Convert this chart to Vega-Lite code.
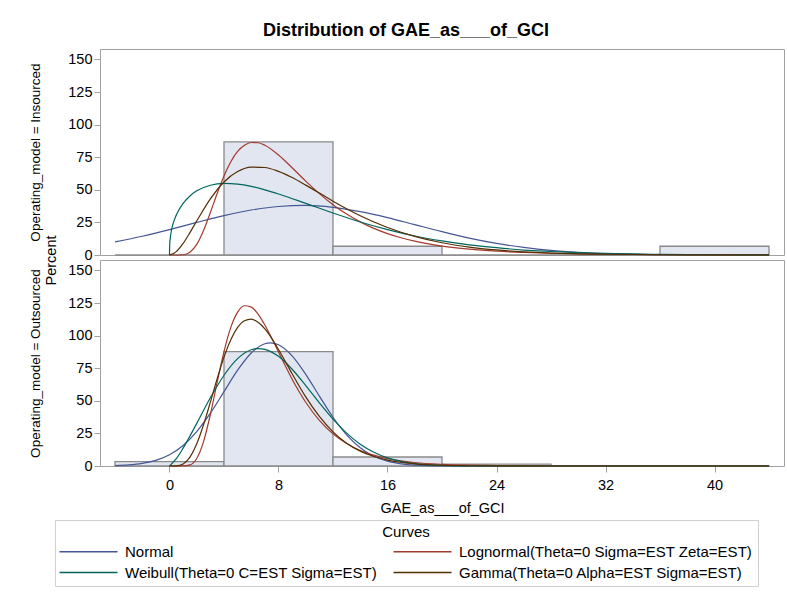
{
  "$schema": "https://vega.github.io/schema/vega-lite/v6.json",
  "padding": {"left": 27, "top": 21, "right": 3, "bottom": 6},
  "bounds": "flush",
  "spacing": 5,
  "title": {"text": "Distribution of GAE_as___of_GCI", "fontSize": 18, "fontWeight": "bold", "color": "#000000", "anchor": "middle", "offset": 9},
  "config": {
    "font": "Liberation Sans",
    "view": {"stroke": "#a0a0a0", "strokeWidth": 1},
    "axis": {"domain": false, "grid": false, "tickColor": "#a0a0a0", "tickSize": 6, "labelFontSize": 14.5, "labelColor": "#000000", "titleFontSize": 14.5, "titleFontWeight": "normal", "titleColor": "#000000"},
    "legend": {"orient": "none", "legendX": -45, "legendY": 471, "direction": "horizontal", "columns": 2, "titleAnchor": "middle", "titleFontSize": 15, "titleFontWeight": "normal", "titleColor": "#000000", "titlePadding": 4, "labelFontSize": 15, "labelColor": "#000000", "labelLimit": 500, "symbolType": "M-1.6,0H10", "symbolSize": 100, "symbolStrokeWidth": 1.3, "strokeColor": "#d0d0d0", "padding": 5, "columnPadding": 13, "rowPadding": 5, "labelOffset": 50}
  },
  "datasets": {
    "hist": [
      {"model": "Insourced", "lo": -4, "hi": 4, "pct": 0},
      {"model": "Insourced", "lo": 4, "hi": 12, "pct": 86.7},
      {"model": "Insourced", "lo": 12, "hi": 20, "pct": 6.7},
      {"model": "Insourced", "lo": 20, "hi": 28, "pct": 0},
      {"model": "Insourced", "lo": 28, "hi": 36, "pct": 0},
      {"model": "Insourced", "lo": 36, "hi": 44, "pct": 6.7},
      {"model": "Outsourced", "lo": -4, "hi": 4, "pct": 3.4},
      {"model": "Outsourced", "lo": 4, "hi": 12, "pct": 87.7},
      {"model": "Outsourced", "lo": 12, "hi": 20, "pct": 6.9},
      {"model": "Outsourced", "lo": 20, "hi": 28, "pct": 1.4},
      {"model": "Outsourced", "lo": 28, "hi": 36, "pct": 0.3},
      {"model": "Outsourced", "lo": 36, "hi": 44, "pct": 0.3}
    ],
    "curves": [
      {"model": "Insourced", "curve": "Normal", "x": -4, "pct": 10.1},
      {"model": "Insourced", "curve": "Normal", "x": -2, "pct": 14.4},
      {"model": "Insourced", "curve": "Normal", "x": 0, "pct": 19.5},
      {"model": "Insourced", "curve": "Normal", "x": 2, "pct": 25.0},
      {"model": "Insourced", "curve": "Normal", "x": 4, "pct": 30.2},
      {"model": "Insourced", "curve": "Normal", "x": 6, "pct": 34.5},
      {"model": "Insourced", "curve": "Normal", "x": 8, "pct": 37.2},
      {"model": "Insourced", "curve": "Normal", "x": 10, "pct": 38.0},
      {"model": "Insourced", "curve": "Normal", "x": 12, "pct": 36.6},
      {"model": "Insourced", "curve": "Normal", "x": 14, "pct": 33.3},
      {"model": "Insourced", "curve": "Normal", "x": 16, "pct": 28.7},
      {"model": "Insourced", "curve": "Normal", "x": 18, "pct": 23.3},
      {"model": "Insourced", "curve": "Normal", "x": 20, "pct": 17.9},
      {"model": "Insourced", "curve": "Normal", "x": 22, "pct": 13.0},
      {"model": "Insourced", "curve": "Normal", "x": 24, "pct": 8.9},
      {"model": "Insourced", "curve": "Normal", "x": 26, "pct": 5.8},
      {"model": "Insourced", "curve": "Normal", "x": 28, "pct": 3.5},
      {"model": "Insourced", "curve": "Normal", "x": 30, "pct": 2.05},
      {"model": "Insourced", "curve": "Normal", "x": 32, "pct": 1.12},
      {"model": "Insourced", "curve": "Normal", "x": 34, "pct": 0.58},
      {"model": "Insourced", "curve": "Normal", "x": 36, "pct": 0.28},
      {"model": "Insourced", "curve": "Normal", "x": 38, "pct": 0.13},
      {"model": "Insourced", "curve": "Normal", "x": 40, "pct": 0.06},
      {"model": "Insourced", "curve": "Normal", "x": 42, "pct": 0.02},
      {"model": "Insourced", "curve": "Normal", "x": 44, "pct": 0.01},
      {"model": "Insourced", "curve": "Lognormal(Theta=0 Sigma=EST Zeta=EST)", "x": 0, "pct": 0},
      {"model": "Insourced", "curve": "Lognormal(Theta=0 Sigma=EST Zeta=EST)", "x": 0.5, "pct": 0},
      {"model": "Insourced", "curve": "Lognormal(Theta=0 Sigma=EST Zeta=EST)", "x": 1, "pct": 0.18},
      {"model": "Insourced", "curve": "Lognormal(Theta=0 Sigma=EST Zeta=EST)", "x": 1.5, "pct": 2.1},
      {"model": "Insourced", "curve": "Lognormal(Theta=0 Sigma=EST Zeta=EST)", "x": 2, "pct": 8.1},
      {"model": "Insourced", "curve": "Lognormal(Theta=0 Sigma=EST Zeta=EST)", "x": 2.5, "pct": 18.8},
      {"model": "Insourced", "curve": "Lognormal(Theta=0 Sigma=EST Zeta=EST)", "x": 3, "pct": 32.6},
      {"model": "Insourced", "curve": "Lognormal(Theta=0 Sigma=EST Zeta=EST)", "x": 3.5, "pct": 47.2},
      {"model": "Insourced", "curve": "Lognormal(Theta=0 Sigma=EST Zeta=EST)", "x": 4, "pct": 60.6},
      {"model": "Insourced", "curve": "Lognormal(Theta=0 Sigma=EST Zeta=EST)", "x": 4.5, "pct": 71.5},
      {"model": "Insourced", "curve": "Lognormal(Theta=0 Sigma=EST Zeta=EST)", "x": 5, "pct": 79.4},
      {"model": "Insourced", "curve": "Lognormal(Theta=0 Sigma=EST Zeta=EST)", "x": 5.5, "pct": 84.2},
      {"model": "Insourced", "curve": "Lognormal(Theta=0 Sigma=EST Zeta=EST)", "x": 6, "pct": 86.3},
      {"model": "Insourced", "curve": "Lognormal(Theta=0 Sigma=EST Zeta=EST)", "x": 6.5, "pct": 86.1},
      {"model": "Insourced", "curve": "Lognormal(Theta=0 Sigma=EST Zeta=EST)", "x": 7, "pct": 84.2},
      {"model": "Insourced", "curve": "Lognormal(Theta=0 Sigma=EST Zeta=EST)", "x": 8, "pct": 76.7},
      {"model": "Insourced", "curve": "Lognormal(Theta=0 Sigma=EST Zeta=EST)", "x": 9, "pct": 66.9},
      {"model": "Insourced", "curve": "Lognormal(Theta=0 Sigma=EST Zeta=EST)", "x": 10, "pct": 56.7},
      {"model": "Insourced", "curve": "Lognormal(Theta=0 Sigma=EST Zeta=EST)", "x": 11, "pct": 47.1},
      {"model": "Insourced", "curve": "Lognormal(Theta=0 Sigma=EST Zeta=EST)", "x": 12, "pct": 38.6},
      {"model": "Insourced", "curve": "Lognormal(Theta=0 Sigma=EST Zeta=EST)", "x": 13, "pct": 31.4},
      {"model": "Insourced", "curve": "Lognormal(Theta=0 Sigma=EST Zeta=EST)", "x": 14, "pct": 25.4},
      {"model": "Insourced", "curve": "Lognormal(Theta=0 Sigma=EST Zeta=EST)", "x": 15, "pct": 20.4},
      {"model": "Insourced", "curve": "Lognormal(Theta=0 Sigma=EST Zeta=EST)", "x": 16, "pct": 16.4},
      {"model": "Insourced", "curve": "Lognormal(Theta=0 Sigma=EST Zeta=EST)", "x": 17, "pct": 13.2},
      {"model": "Insourced", "curve": "Lognormal(Theta=0 Sigma=EST Zeta=EST)", "x": 18, "pct": 10.6},
      {"model": "Insourced", "curve": "Lognormal(Theta=0 Sigma=EST Zeta=EST)", "x": 20, "pct": 6.85},
      {"model": "Insourced", "curve": "Lognormal(Theta=0 Sigma=EST Zeta=EST)", "x": 22, "pct": 4.46},
      {"model": "Insourced", "curve": "Lognormal(Theta=0 Sigma=EST Zeta=EST)", "x": 24, "pct": 2.92},
      {"model": "Insourced", "curve": "Lognormal(Theta=0 Sigma=EST Zeta=EST)", "x": 26, "pct": 1.94},
      {"model": "Insourced", "curve": "Lognormal(Theta=0 Sigma=EST Zeta=EST)", "x": 28, "pct": 1.29},
      {"model": "Insourced", "curve": "Lognormal(Theta=0 Sigma=EST Zeta=EST)", "x": 30, "pct": 0.87},
      {"model": "Insourced", "curve": "Lognormal(Theta=0 Sigma=EST Zeta=EST)", "x": 32, "pct": 0.59},
      {"model": "Insourced", "curve": "Lognormal(Theta=0 Sigma=EST Zeta=EST)", "x": 36, "pct": 0.28},
      {"model": "Insourced", "curve": "Lognormal(Theta=0 Sigma=EST Zeta=EST)", "x": 40, "pct": 0.14},
      {"model": "Insourced", "curve": "Lognormal(Theta=0 Sigma=EST Zeta=EST)", "x": 44, "pct": 0.07},
      {"model": "Insourced", "curve": "Weibull(Theta=0 C=EST Sigma=EST)", "x": 0, "pct": 0},
      {"model": "Insourced", "curve": "Weibull(Theta=0 C=EST Sigma=EST)", "x": 0.02, "pct": 8.6},
      {"model": "Insourced", "curve": "Weibull(Theta=0 C=EST Sigma=EST)", "x": 0.1, "pct": 16.3},
      {"model": "Insourced", "curve": "Weibull(Theta=0 C=EST Sigma=EST)", "x": 0.25, "pct": 23.5},
      {"model": "Insourced", "curve": "Weibull(Theta=0 C=EST Sigma=EST)", "x": 0.5, "pct": 30.7},
      {"model": "Insourced", "curve": "Weibull(Theta=0 C=EST Sigma=EST)", "x": 1, "pct": 39.6},
      {"model": "Insourced", "curve": "Weibull(Theta=0 C=EST Sigma=EST)", "x": 1.5, "pct": 45.3},
      {"model": "Insourced", "curve": "Weibull(Theta=0 C=EST Sigma=EST)", "x": 2, "pct": 49.2},
      {"model": "Insourced", "curve": "Weibull(Theta=0 C=EST Sigma=EST)", "x": 3, "pct": 53.5},
      {"model": "Insourced", "curve": "Weibull(Theta=0 C=EST Sigma=EST)", "x": 4, "pct": 54.9},
      {"model": "Insourced", "curve": "Weibull(Theta=0 C=EST Sigma=EST)", "x": 5, "pct": 54.4},
      {"model": "Insourced", "curve": "Weibull(Theta=0 C=EST Sigma=EST)", "x": 6, "pct": 52.7},
      {"model": "Insourced", "curve": "Weibull(Theta=0 C=EST Sigma=EST)", "x": 7, "pct": 50.0},
      {"model": "Insourced", "curve": "Weibull(Theta=0 C=EST Sigma=EST)", "x": 8, "pct": 46.8},
      {"model": "Insourced", "curve": "Weibull(Theta=0 C=EST Sigma=EST)", "x": 10, "pct": 39.6},
      {"model": "Insourced", "curve": "Weibull(Theta=0 C=EST Sigma=EST)", "x": 12, "pct": 32.2},
      {"model": "Insourced", "curve": "Weibull(Theta=0 C=EST Sigma=EST)", "x": 14, "pct": 25.3},
      {"model": "Insourced", "curve": "Weibull(Theta=0 C=EST Sigma=EST)", "x": 16, "pct": 19.5},
      {"model": "Insourced", "curve": "Weibull(Theta=0 C=EST Sigma=EST)", "x": 18, "pct": 14.6},
      {"model": "Insourced", "curve": "Weibull(Theta=0 C=EST Sigma=EST)", "x": 20, "pct": 10.8},
      {"model": "Insourced", "curve": "Weibull(Theta=0 C=EST Sigma=EST)", "x": 22, "pct": 7.8},
      {"model": "Insourced", "curve": "Weibull(Theta=0 C=EST Sigma=EST)", "x": 24, "pct": 5.6},
      {"model": "Insourced", "curve": "Weibull(Theta=0 C=EST Sigma=EST)", "x": 26, "pct": 3.8},
      {"model": "Insourced", "curve": "Weibull(Theta=0 C=EST Sigma=EST)", "x": 28, "pct": 2.7},
      {"model": "Insourced", "curve": "Weibull(Theta=0 C=EST Sigma=EST)", "x": 30, "pct": 1.8},
      {"model": "Insourced", "curve": "Weibull(Theta=0 C=EST Sigma=EST)", "x": 32, "pct": 1.2},
      {"model": "Insourced", "curve": "Weibull(Theta=0 C=EST Sigma=EST)", "x": 34, "pct": 0.8},
      {"model": "Insourced", "curve": "Weibull(Theta=0 C=EST Sigma=EST)", "x": 36, "pct": 0.5},
      {"model": "Insourced", "curve": "Weibull(Theta=0 C=EST Sigma=EST)", "x": 40, "pct": 0.2},
      {"model": "Insourced", "curve": "Weibull(Theta=0 C=EST Sigma=EST)", "x": 44, "pct": 0.1},
      {"model": "Insourced", "curve": "Gamma(Theta=0 Alpha=EST Sigma=EST)", "x": 0, "pct": 0},
      {"model": "Insourced", "curve": "Gamma(Theta=0 Alpha=EST Sigma=EST)", "x": 0.5, "pct": 2.6},
      {"model": "Insourced", "curve": "Gamma(Theta=0 Alpha=EST Sigma=EST)", "x": 1, "pct": 8.9},
      {"model": "Insourced", "curve": "Gamma(Theta=0 Alpha=EST Sigma=EST)", "x": 1.5, "pct": 17.2},
      {"model": "Insourced", "curve": "Gamma(Theta=0 Alpha=EST Sigma=EST)", "x": 2, "pct": 26.1},
      {"model": "Insourced", "curve": "Gamma(Theta=0 Alpha=EST Sigma=EST)", "x": 3, "pct": 43.0},
      {"model": "Insourced", "curve": "Gamma(Theta=0 Alpha=EST Sigma=EST)", "x": 4, "pct": 56.0},
      {"model": "Insourced", "curve": "Gamma(Theta=0 Alpha=EST Sigma=EST)", "x": 5, "pct": 64.0},
      {"model": "Insourced", "curve": "Gamma(Theta=0 Alpha=EST Sigma=EST)", "x": 6, "pct": 67.4},
      {"model": "Insourced", "curve": "Gamma(Theta=0 Alpha=EST Sigma=EST)", "x": 7, "pct": 67.1},
      {"model": "Insourced", "curve": "Gamma(Theta=0 Alpha=EST Sigma=EST)", "x": 8, "pct": 64.1},
      {"model": "Insourced", "curve": "Gamma(Theta=0 Alpha=EST Sigma=EST)", "x": 9, "pct": 59.4},
      {"model": "Insourced", "curve": "Gamma(Theta=0 Alpha=EST Sigma=EST)", "x": 10, "pct": 53.6},
      {"model": "Insourced", "curve": "Gamma(Theta=0 Alpha=EST Sigma=EST)", "x": 11, "pct": 47.5},
      {"model": "Insourced", "curve": "Gamma(Theta=0 Alpha=EST Sigma=EST)", "x": 12, "pct": 41.3},
      {"model": "Insourced", "curve": "Gamma(Theta=0 Alpha=EST Sigma=EST)", "x": 13, "pct": 35.5},
      {"model": "Insourced", "curve": "Gamma(Theta=0 Alpha=EST Sigma=EST)", "x": 14, "pct": 30.1},
      {"model": "Insourced", "curve": "Gamma(Theta=0 Alpha=EST Sigma=EST)", "x": 16, "pct": 21.1},
      {"model": "Insourced", "curve": "Gamma(Theta=0 Alpha=EST Sigma=EST)", "x": 18, "pct": 14.3},
      {"model": "Insourced", "curve": "Gamma(Theta=0 Alpha=EST Sigma=EST)", "x": 20, "pct": 9.4},
      {"model": "Insourced", "curve": "Gamma(Theta=0 Alpha=EST Sigma=EST)", "x": 22, "pct": 6.1},
      {"model": "Insourced", "curve": "Gamma(Theta=0 Alpha=EST Sigma=EST)", "x": 24, "pct": 3.9},
      {"model": "Insourced", "curve": "Gamma(Theta=0 Alpha=EST Sigma=EST)", "x": 26, "pct": 2.4},
      {"model": "Insourced", "curve": "Gamma(Theta=0 Alpha=EST Sigma=EST)", "x": 28, "pct": 1.5},
      {"model": "Insourced", "curve": "Gamma(Theta=0 Alpha=EST Sigma=EST)", "x": 30, "pct": 0.93},
      {"model": "Insourced", "curve": "Gamma(Theta=0 Alpha=EST Sigma=EST)", "x": 32, "pct": 0.57},
      {"model": "Insourced", "curve": "Gamma(Theta=0 Alpha=EST Sigma=EST)", "x": 36, "pct": 0.21},
      {"model": "Insourced", "curve": "Gamma(Theta=0 Alpha=EST Sigma=EST)", "x": 40, "pct": 0.07},
      {"model": "Insourced", "curve": "Gamma(Theta=0 Alpha=EST Sigma=EST)", "x": 44, "pct": 0.02},
      {"model": "Outsourced", "curve": "Normal", "x": -4, "pct": 0.32},
      {"model": "Outsourced", "curve": "Normal", "x": -3, "pct": 0.83},
      {"model": "Outsourced", "curve": "Normal", "x": -2, "pct": 1.98},
      {"model": "Outsourced", "curve": "Normal", "x": -1, "pct": 4.3},
      {"model": "Outsourced", "curve": "Normal", "x": 0, "pct": 8.6},
      {"model": "Outsourced", "curve": "Normal", "x": 1, "pct": 15.7},
      {"model": "Outsourced", "curve": "Normal", "x": 2, "pct": 26.4},
      {"model": "Outsourced", "curve": "Normal", "x": 3, "pct": 40.5},
      {"model": "Outsourced", "curve": "Normal", "x": 4, "pct": 57.0},
      {"model": "Outsourced", "curve": "Normal", "x": 5, "pct": 73.5},
      {"model": "Outsourced", "curve": "Normal", "x": 6, "pct": 86.7},
      {"model": "Outsourced", "curve": "Normal", "x": 7, "pct": 93.8},
      {"model": "Outsourced", "curve": "Normal", "x": 7.4, "pct": 94.5},
      {"model": "Outsourced", "curve": "Normal", "x": 8, "pct": 93.0},
      {"model": "Outsourced", "curve": "Normal", "x": 9, "pct": 84.5},
      {"model": "Outsourced", "curve": "Normal", "x": 10, "pct": 70.3},
      {"model": "Outsourced", "curve": "Normal", "x": 11, "pct": 53.6},
      {"model": "Outsourced", "curve": "Normal", "x": 12, "pct": 37.4},
      {"model": "Outsourced", "curve": "Normal", "x": 13, "pct": 23.9},
      {"model": "Outsourced", "curve": "Normal", "x": 14, "pct": 14.0},
      {"model": "Outsourced", "curve": "Normal", "x": 15, "pct": 7.5},
      {"model": "Outsourced", "curve": "Normal", "x": 16, "pct": 3.7},
      {"model": "Outsourced", "curve": "Normal", "x": 17, "pct": 1.7},
      {"model": "Outsourced", "curve": "Normal", "x": 18, "pct": 0.69},
      {"model": "Outsourced", "curve": "Normal", "x": 20, "pct": 0.09},
      {"model": "Outsourced", "curve": "Normal", "x": 22, "pct": 0.01},
      {"model": "Outsourced", "curve": "Normal", "x": 26, "pct": 0},
      {"model": "Outsourced", "curve": "Normal", "x": 44, "pct": 0},
      {"model": "Outsourced", "curve": "Lognormal(Theta=0 Sigma=EST Zeta=EST)", "x": 0, "pct": 0},
      {"model": "Outsourced", "curve": "Lognormal(Theta=0 Sigma=EST Zeta=EST)", "x": 0.5, "pct": 0},
      {"model": "Outsourced", "curve": "Lognormal(Theta=0 Sigma=EST Zeta=EST)", "x": 1, "pct": 0.03},
      {"model": "Outsourced", "curve": "Lognormal(Theta=0 Sigma=EST Zeta=EST)", "x": 1.5, "pct": 0.84},
      {"model": "Outsourced", "curve": "Lognormal(Theta=0 Sigma=EST Zeta=EST)", "x": 2, "pct": 5.8},
      {"model": "Outsourced", "curve": "Lognormal(Theta=0 Sigma=EST Zeta=EST)", "x": 2.5, "pct": 18.7},
      {"model": "Outsourced", "curve": "Lognormal(Theta=0 Sigma=EST Zeta=EST)", "x": 3, "pct": 39.5},
      {"model": "Outsourced", "curve": "Lognormal(Theta=0 Sigma=EST Zeta=EST)", "x": 3.5, "pct": 64.3},
      {"model": "Outsourced", "curve": "Lognormal(Theta=0 Sigma=EST Zeta=EST)", "x": 4, "pct": 87.8},
      {"model": "Outsourced", "curve": "Lognormal(Theta=0 Sigma=EST Zeta=EST)", "x": 4.5, "pct": 106.3},
      {"model": "Outsourced", "curve": "Lognormal(Theta=0 Sigma=EST Zeta=EST)", "x": 5, "pct": 118.0},
      {"model": "Outsourced", "curve": "Lognormal(Theta=0 Sigma=EST Zeta=EST)", "x": 5.5, "pct": 122.9},
      {"model": "Outsourced", "curve": "Lognormal(Theta=0 Sigma=EST Zeta=EST)", "x": 6, "pct": 121.9},
      {"model": "Outsourced", "curve": "Lognormal(Theta=0 Sigma=EST Zeta=EST)", "x": 6.5, "pct": 116.5},
      {"model": "Outsourced", "curve": "Lognormal(Theta=0 Sigma=EST Zeta=EST)", "x": 7, "pct": 108.1},
      {"model": "Outsourced", "curve": "Lognormal(Theta=0 Sigma=EST Zeta=EST)", "x": 7.5, "pct": 98.1},
      {"model": "Outsourced", "curve": "Lognormal(Theta=0 Sigma=EST Zeta=EST)", "x": 8, "pct": 87.4},
      {"model": "Outsourced", "curve": "Lognormal(Theta=0 Sigma=EST Zeta=EST)", "x": 9, "pct": 66.6},
      {"model": "Outsourced", "curve": "Lognormal(Theta=0 Sigma=EST Zeta=EST)", "x": 10, "pct": 48.9},
      {"model": "Outsourced", "curve": "Lognormal(Theta=0 Sigma=EST Zeta=EST)", "x": 11, "pct": 35.0},
      {"model": "Outsourced", "curve": "Lognormal(Theta=0 Sigma=EST Zeta=EST)", "x": 12, "pct": 24.7},
      {"model": "Outsourced", "curve": "Lognormal(Theta=0 Sigma=EST Zeta=EST)", "x": 13, "pct": 17.2},
      {"model": "Outsourced", "curve": "Lognormal(Theta=0 Sigma=EST Zeta=EST)", "x": 14, "pct": 11.9},
      {"model": "Outsourced", "curve": "Lognormal(Theta=0 Sigma=EST Zeta=EST)", "x": 15, "pct": 8.3},
      {"model": "Outsourced", "curve": "Lognormal(Theta=0 Sigma=EST Zeta=EST)", "x": 16, "pct": 5.7},
      {"model": "Outsourced", "curve": "Lognormal(Theta=0 Sigma=EST Zeta=EST)", "x": 18, "pct": 2.7},
      {"model": "Outsourced", "curve": "Lognormal(Theta=0 Sigma=EST Zeta=EST)", "x": 20, "pct": 1.3},
      {"model": "Outsourced", "curve": "Lognormal(Theta=0 Sigma=EST Zeta=EST)", "x": 22, "pct": 0.65},
      {"model": "Outsourced", "curve": "Lognormal(Theta=0 Sigma=EST Zeta=EST)", "x": 24, "pct": 0.33},
      {"model": "Outsourced", "curve": "Lognormal(Theta=0 Sigma=EST Zeta=EST)", "x": 28, "pct": 0.09},
      {"model": "Outsourced", "curve": "Lognormal(Theta=0 Sigma=EST Zeta=EST)", "x": 32, "pct": 0.02},
      {"model": "Outsourced", "curve": "Lognormal(Theta=0 Sigma=EST Zeta=EST)", "x": 44, "pct": 0},
      {"model": "Outsourced", "curve": "Weibull(Theta=0 C=EST Sigma=EST)", "x": 0, "pct": 0},
      {"model": "Outsourced", "curve": "Weibull(Theta=0 C=EST Sigma=EST)", "x": 0.5, "pct": 5.6},
      {"model": "Outsourced", "curve": "Weibull(Theta=0 C=EST Sigma=EST)", "x": 1, "pct": 13.7},
      {"model": "Outsourced", "curve": "Weibull(Theta=0 C=EST Sigma=EST)", "x": 1.5, "pct": 22.9},
      {"model": "Outsourced", "curve": "Weibull(Theta=0 C=EST Sigma=EST)", "x": 2, "pct": 32.7},
      {"model": "Outsourced", "curve": "Weibull(Theta=0 C=EST Sigma=EST)", "x": 3, "pct": 52.3},
      {"model": "Outsourced", "curve": "Weibull(Theta=0 C=EST Sigma=EST)", "x": 4, "pct": 69.6},
      {"model": "Outsourced", "curve": "Weibull(Theta=0 C=EST Sigma=EST)", "x": 5, "pct": 82.4},
      {"model": "Outsourced", "curve": "Weibull(Theta=0 C=EST Sigma=EST)", "x": 6, "pct": 89.2},
      {"model": "Outsourced", "curve": "Weibull(Theta=0 C=EST Sigma=EST)", "x": 6.5, "pct": 90.1},
      {"model": "Outsourced", "curve": "Weibull(Theta=0 C=EST Sigma=EST)", "x": 7, "pct": 89.5},
      {"model": "Outsourced", "curve": "Weibull(Theta=0 C=EST Sigma=EST)", "x": 8, "pct": 84.1},
      {"model": "Outsourced", "curve": "Weibull(Theta=0 C=EST Sigma=EST)", "x": 9, "pct": 74.2},
      {"model": "Outsourced", "curve": "Weibull(Theta=0 C=EST Sigma=EST)", "x": 10, "pct": 61.7},
      {"model": "Outsourced", "curve": "Weibull(Theta=0 C=EST Sigma=EST)", "x": 11, "pct": 48.4},
      {"model": "Outsourced", "curve": "Weibull(Theta=0 C=EST Sigma=EST)", "x": 12, "pct": 35.9},
      {"model": "Outsourced", "curve": "Weibull(Theta=0 C=EST Sigma=EST)", "x": 13, "pct": 25.2},
      {"model": "Outsourced", "curve": "Weibull(Theta=0 C=EST Sigma=EST)", "x": 14, "pct": 16.7},
      {"model": "Outsourced", "curve": "Weibull(Theta=0 C=EST Sigma=EST)", "x": 15, "pct": 10.5},
      {"model": "Outsourced", "curve": "Weibull(Theta=0 C=EST Sigma=EST)", "x": 16, "pct": 6.2},
      {"model": "Outsourced", "curve": "Weibull(Theta=0 C=EST Sigma=EST)", "x": 17, "pct": 3.5},
      {"model": "Outsourced", "curve": "Weibull(Theta=0 C=EST Sigma=EST)", "x": 18, "pct": 1.8},
      {"model": "Outsourced", "curve": "Weibull(Theta=0 C=EST Sigma=EST)", "x": 20, "pct": 0.43},
      {"model": "Outsourced", "curve": "Weibull(Theta=0 C=EST Sigma=EST)", "x": 22, "pct": 0.08},
      {"model": "Outsourced", "curve": "Weibull(Theta=0 C=EST Sigma=EST)", "x": 24, "pct": 0.01},
      {"model": "Outsourced", "curve": "Weibull(Theta=0 C=EST Sigma=EST)", "x": 28, "pct": 0},
      {"model": "Outsourced", "curve": "Weibull(Theta=0 C=EST Sigma=EST)", "x": 44, "pct": 0},
      {"model": "Outsourced", "curve": "Gamma(Theta=0 Alpha=EST Sigma=EST)", "x": 0, "pct": 0},
      {"model": "Outsourced", "curve": "Gamma(Theta=0 Alpha=EST Sigma=EST)", "x": 0.5, "pct": 0.1},
      {"model": "Outsourced", "curve": "Gamma(Theta=0 Alpha=EST Sigma=EST)", "x": 1, "pct": 1.61},
      {"model": "Outsourced", "curve": "Gamma(Theta=0 Alpha=EST Sigma=EST)", "x": 1.5, "pct": 6.8},
      {"model": "Outsourced", "curve": "Gamma(Theta=0 Alpha=EST Sigma=EST)", "x": 2, "pct": 17.0},
      {"model": "Outsourced", "curve": "Gamma(Theta=0 Alpha=EST Sigma=EST)", "x": 2.5, "pct": 31.6},
      {"model": "Outsourced", "curve": "Gamma(Theta=0 Alpha=EST Sigma=EST)", "x": 3, "pct": 49.0},
      {"model": "Outsourced", "curve": "Gamma(Theta=0 Alpha=EST Sigma=EST)", "x": 3.5, "pct": 67.0},
      {"model": "Outsourced", "curve": "Gamma(Theta=0 Alpha=EST Sigma=EST)", "x": 4, "pct": 83.5},
      {"model": "Outsourced", "curve": "Gamma(Theta=0 Alpha=EST Sigma=EST)", "x": 4.5, "pct": 96.9},
      {"model": "Outsourced", "curve": "Gamma(Theta=0 Alpha=EST Sigma=EST)", "x": 5, "pct": 106.3},
      {"model": "Outsourced", "curve": "Gamma(Theta=0 Alpha=EST Sigma=EST)", "x": 5.5, "pct": 111.4},
      {"model": "Outsourced", "curve": "Gamma(Theta=0 Alpha=EST Sigma=EST)", "x": 6, "pct": 112.6},
      {"model": "Outsourced", "curve": "Gamma(Theta=0 Alpha=EST Sigma=EST)", "x": 6.5, "pct": 110.2},
      {"model": "Outsourced", "curve": "Gamma(Theta=0 Alpha=EST Sigma=EST)", "x": 7, "pct": 105.1},
      {"model": "Outsourced", "curve": "Gamma(Theta=0 Alpha=EST Sigma=EST)", "x": 7.5, "pct": 97.9},
      {"model": "Outsourced", "curve": "Gamma(Theta=0 Alpha=EST Sigma=EST)", "x": 8, "pct": 89.4},
      {"model": "Outsourced", "curve": "Gamma(Theta=0 Alpha=EST Sigma=EST)", "x": 9, "pct": 70.8},
      {"model": "Outsourced", "curve": "Gamma(Theta=0 Alpha=EST Sigma=EST)", "x": 10, "pct": 53.0},
      {"model": "Outsourced", "curve": "Gamma(Theta=0 Alpha=EST Sigma=EST)", "x": 11, "pct": 38.0},
      {"model": "Outsourced", "curve": "Gamma(Theta=0 Alpha=EST Sigma=EST)", "x": 12, "pct": 26.2},
      {"model": "Outsourced", "curve": "Gamma(Theta=0 Alpha=EST Sigma=EST)", "x": 13, "pct": 17.5},
      {"model": "Outsourced", "curve": "Gamma(Theta=0 Alpha=EST Sigma=EST)", "x": 14, "pct": 11.4},
      {"model": "Outsourced", "curve": "Gamma(Theta=0 Alpha=EST Sigma=EST)", "x": 15, "pct": 7.3},
      {"model": "Outsourced", "curve": "Gamma(Theta=0 Alpha=EST Sigma=EST)", "x": 16, "pct": 4.5},
      {"model": "Outsourced", "curve": "Gamma(Theta=0 Alpha=EST Sigma=EST)", "x": 18, "pct": 1.7},
      {"model": "Outsourced", "curve": "Gamma(Theta=0 Alpha=EST Sigma=EST)", "x": 20, "pct": 0.58},
      {"model": "Outsourced", "curve": "Gamma(Theta=0 Alpha=EST Sigma=EST)", "x": 22, "pct": 0.2},
      {"model": "Outsourced", "curve": "Gamma(Theta=0 Alpha=EST Sigma=EST)", "x": 24, "pct": 0.06},
      {"model": "Outsourced", "curve": "Gamma(Theta=0 Alpha=EST Sigma=EST)", "x": 28, "pct": 0.01},
      {"model": "Outsourced", "curve": "Gamma(Theta=0 Alpha=EST Sigma=EST)", "x": 44, "pct": 0}
    ]
  },
  "resolve": {"scale": {"color": "shared"}},
  "vconcat": [
    {
      "width": 684,
      "height": 206,
      "layer": [
        {
          "data": {"name": "hist"},
          "transform": [{"filter": "datum.model == 'Insourced'"}],
          "mark": {"type": "rect", "fill": "#e1e6f0", "stroke": "#8a8a8a", "strokeWidth": 1.3},
          "encoding": {
            "x": {"field": "lo", "type": "quantitative", "scale": {"domain": [-5.1, 45.1], "nice": false, "zero": false}, "axis": null},
            "x2": {"field": "hi"},
            "y": {"field": "pct", "type": "quantitative", "scale": {"domain": [0, 158], "nice": false}, "axis": {"values": [0, 25, 50, 75, 100, 125, 150], "labelPadding": 2, "title": "Percent", "titleX": -42, "titleY": 211, "titleAngle": -90, "titleAlign": "center", "titleBaseline": "bottom"}},
            "y2": {"datum": 0}
          }
        },
        {
          "data": {"name": "curves"},
          "transform": [{"filter": "datum.model == 'Insourced'"}],
          "mark": {"type": "line", "interpolate": "monotone", "strokeWidth": 1.2},
          "encoding": {
            "x": {"field": "x", "type": "quantitative", "scale": {"domain": [-5.1, 45.1], "nice": false, "zero": false}, "axis": null},
            "y": {"field": "pct", "type": "quantitative", "scale": {"domain": [0, 158], "nice": false}, "axis": {"orient": "left", "labels": false, "ticks": false, "domain": false, "title": "Operating_model = Insourced", "titlePadding": 58, "titleFontSize": 13.5}},
            "color": {"field": "curve", "type": "nominal", "scale": {"domain": ["Normal", "Lognormal(Theta=0 Sigma=EST Zeta=EST)", "Weibull(Theta=0 C=EST Sigma=EST)", "Gamma(Theta=0 Alpha=EST Sigma=EST)"], "range": ["#445694", "#a23a2e", "#01665e", "#543005"]}, "legend": {"title": "Curves"}}
          }
        }
      ],
      "resolve": {"axis": {"y": "independent"}}
    },
    {
      "width": 684,
      "height": 206,
      "layer": [
        {
          "data": {"name": "hist"},
          "transform": [{"filter": "datum.model == 'Outsourced'"}],
          "mark": {"type": "rect", "fill": "#e1e6f0", "stroke": "#8a8a8a", "strokeWidth": 1.3},
          "encoding": {
            "x": {"field": "lo", "type": "quantitative", "scale": {"domain": [-5.1, 45.1], "nice": false, "zero": false}, "axis": {"values": [0, 8, 16, 24, 32, 40], "labelPadding": 6, "title": "GAE_as___of_GCI", "titlePadding": 10}},
            "x2": {"field": "hi"},
            "y": {"field": "pct", "type": "quantitative", "scale": {"domain": [0, 158], "nice": false}, "axis": {"values": [0, 25, 50, 75, 100, 125, 150], "labelPadding": 2, "title": null}},
            "y2": {"datum": 0}
          }
        },
        {
          "data": {"name": "curves"},
          "transform": [{"filter": "datum.model == 'Outsourced'"}],
          "mark": {"type": "line", "interpolate": "monotone", "strokeWidth": 1.2},
          "encoding": {
            "x": {"field": "x", "type": "quantitative", "scale": {"domain": [-5.1, 45.1], "nice": false, "zero": false}},
            "y": {"field": "pct", "type": "quantitative", "scale": {"domain": [0, 158], "nice": false}, "axis": {"orient": "left", "labels": false, "ticks": false, "domain": false, "title": "Operating_model = Outsourced", "titlePadding": 58, "titleFontSize": 13.5}},
            "color": {"field": "curve", "type": "nominal", "scale": {"domain": ["Normal", "Lognormal(Theta=0 Sigma=EST Zeta=EST)", "Weibull(Theta=0 C=EST Sigma=EST)", "Gamma(Theta=0 Alpha=EST Sigma=EST)"], "range": ["#445694", "#a23a2e", "#01665e", "#543005"]}, "legend": {"title": "Curves"}}
          }
        }
      ],
      "resolve": {"axis": {"y": "independent"}}
    }
  ]
}
